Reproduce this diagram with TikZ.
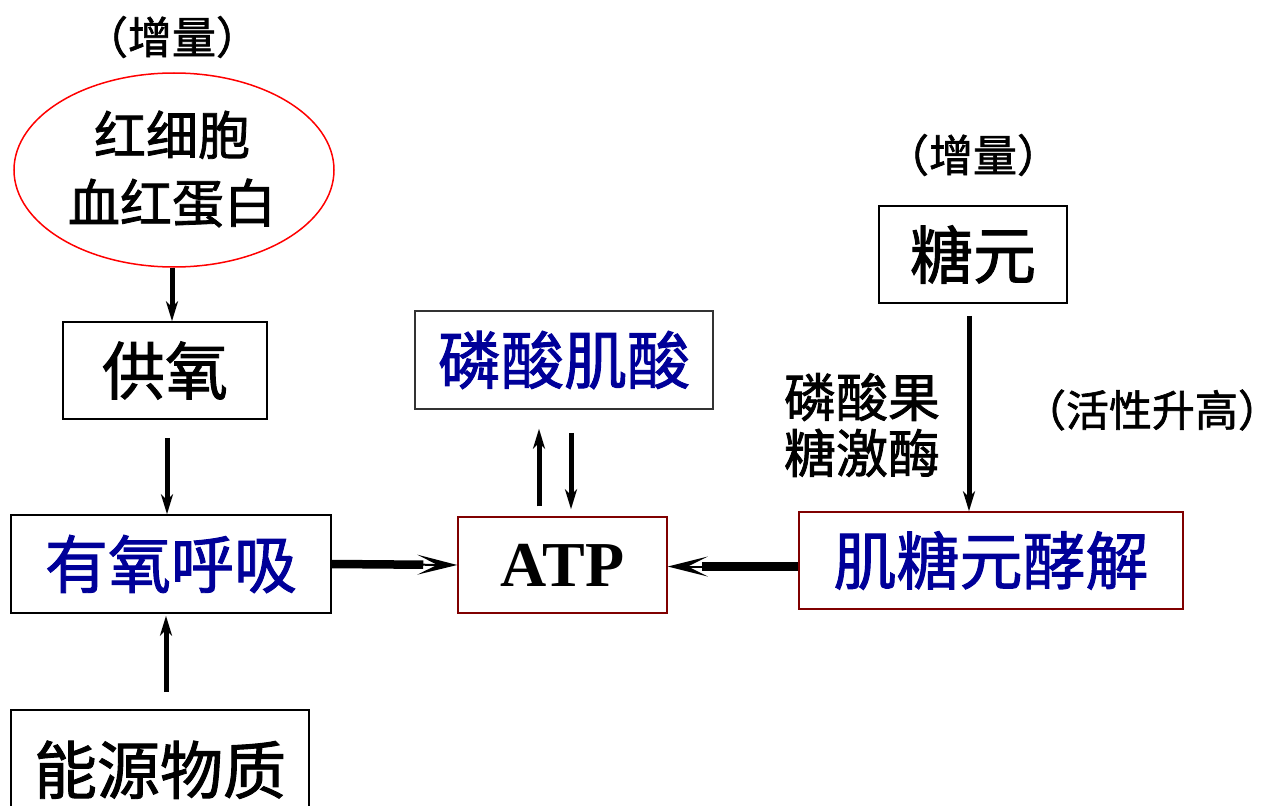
\documentclass[tikz,border=0pt]{standalone}
\usepackage{fontspec}
\setmainfont{Liberation Serif}
\newfontfamily\atpf{Liberation Serif}
\newfontfamily\cjk{Noto Sans CJK SC}[BoldFont=Noto Sans CJK SC, BoldFeatures={FakeBold=1.5}]
\usetikzlibrary{arrows.meta,shapes.geometric}
\definecolor{tblue}{RGB}{0,0,153}
\definecolor{dred}{RGB}{128,0,0}
\begin{document}
\begin{tikzpicture}[x=1pt,y=-1pt,
  box/.style={draw=black, line width=1.5pt, rectangle, inner sep=0pt, font=\cjk\bfseries\fontsize{63}{72}\selectfont},
  rbox/.style={box, draw=dred},
  lbl/.style={inner sep=0pt, align=center},
  varr/.style={-{Stealth[length=20pt,width=12pt,inset=6pt]}, line width=5pt},
  harr/.style={line width=2pt, -{Stealth[length=40pt,width=20pt,inset=20pt]},
    preaction={draw, -, line width=8.5pt, shorten >=34pt}}]
\useasboundingbox (0,0) rectangle (1281,805);
% left column
\node[lbl, font=\cjk\bfseries\fontsize{44}{54}\selectfont] (zl1) at (172,37) {（增量）};
\node[ellipse, draw=red, line width=1.5pt, minimum width=320pt, minimum height=194pt, inner sep=0pt] (ell) at (174,170) {};
\node[lbl, font=\cjk\bfseries\fontsize{52}{68}\selectfont] (ellt) at (172,169) {红细胞\\血红蛋白};
\node[box, minimum width=204pt, minimum height=97pt] (gy) at (165,370.5) {供氧};
\node[box, minimum width=320pt, minimum height=98pt, text=tblue] (yy) at (171,564) {有氧呼吸};
\node[box, minimum width=298pt, minimum height=120pt, anchor=north] (ny) at (160,709) {能源物质};
% middle
\node[box, minimum width=298pt, minimum height=98pt, draw=black!80, text=tblue] (lsj) at (564,360) {磷酸肌酸};
\node[rbox, minimum width=209pt, minimum height=96pt, font=\atpf\bfseries\fontsize{64}{72}\selectfont] (atp) at (562.5,565) {ATP};
% right
\node[lbl, font=\cjk\bfseries\fontsize{44}{54}\selectfont] (zl2) at (973,155) {（增量）};
\node[box, minimum width=188pt, minimum height=97pt] (ty) at (973,254.5) {糖元};
\node[lbl, font=\cjk\bfseries\fontsize{52}{56}\selectfont] (mei) at (862,425) {磷酸果\\糖激酶};
\node[lbl, font=\cjk\bfseries\fontsize{43}{54}\selectfont] (hx) at (1152,410) {（活性升高）};
\node[rbox, minimum width=384pt, minimum height=97pt, text=tblue] (jt) at (991,560.5) {肌糖元酵解};
% connectors
\draw[varr] ([xshift=-2pt]ell.south) -- ([xshift=-2pt]ell.south |- gy.north);
\draw[varr] ([xshift=2pt,yshift=-18pt]gy.south) -- ([xshift=2pt]gy.south |- yy.north);
\draw[varr] ([xshift=6pt,yshift=17pt]ny.north) -- ([xshift=6pt,yshift=-2pt]ny.north |- yy.south);
\draw[harr] (yy.east) -- (atp.west);
\draw[harr] ([yshift=-6pt]jt.west) -- ([yshift=-6pt]jt.west -| atp.east);
\draw[varr] ([xshift=-23.5pt,yshift=10pt]atp.north) -- ([xshift=-23.5pt,yshift=-19pt]atp.north |- lsj.south);
\draw[varr] ([xshift=8.5pt,yshift=-23pt]atp.north |- lsj.south) -- ([xshift=8.5pt,yshift=7pt]atp.north);
\draw[varr] ([xshift=-4pt,yshift=-12pt]ty.south) -- ([xshift=-4pt]ty.south |- jt.north);
\end{tikzpicture}
\end{document}
